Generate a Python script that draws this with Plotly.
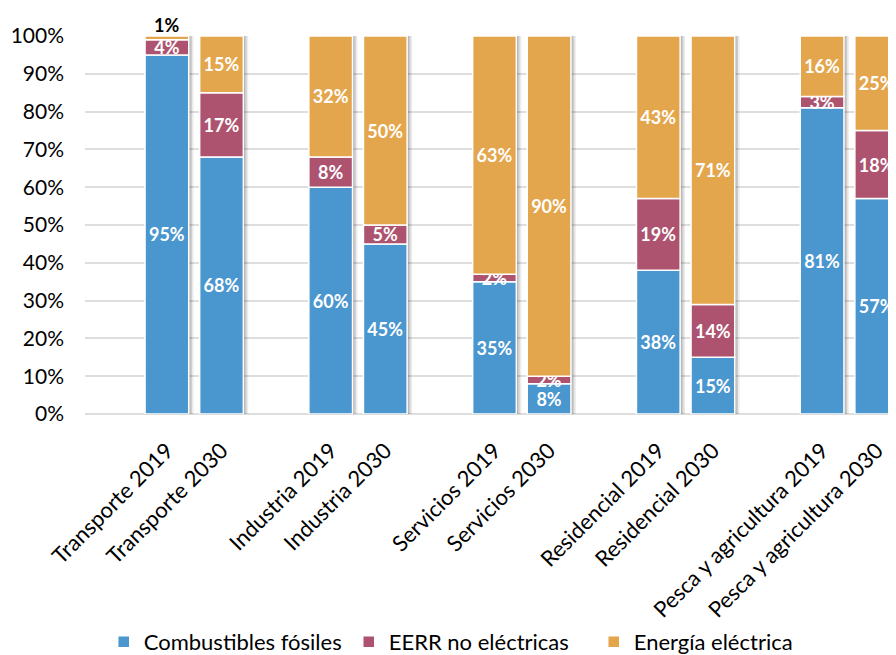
import numpy as np
import plotly.graph_objects as go

# ---- data ----
labels = ["Transporte 2019", "Transporte 2030",
          "Industria 2019", "Industria 2030",
          "Servicios 2019", "Servicios 2030",
          "Residencial 2019", "Residencial 2030",
          "Pesca y agricultura 2019", "Pesca y agricultura 2030"]
fosiles = [95, 68, 60, 45, 35, 8, 38, 15, 81, 57]
eerr = [4, 17, 8, 5, 2, 2, 19, 14, 3, 18]
electrica = [1, 15, 32, 50, 63, 90, 43, 71, 16, 25]
series_names = ["Combustibles fósiles", "EERR no eléctricas", "Energía eléctrica"]
colors = ["#4A96CE", "#AD536F", "#E4A64C"]
ytick_vals = list(range(0, 101, 10))
ytick_text = [f"{v}%" for v in ytick_vals]

# category slots: one empty slot before each pair
pos = np.array([g * 3 + k + 1 for g in range(5) for k in range(2)], dtype=float)

F = np.array(fosiles, float)
E = np.array(eerr, float)
L = np.array(electrica, float)
bases = [np.zeros_like(F), F, F + E]
vals = [F, E, L]
totals = F + E + L

FONT = "Lato"
fig = go.Figure()

# soft shadow behind bars
for off, a in [(-0.31, 0.08), (-0.34, 0.12), (-0.37, 0.14)]:
    fig.add_trace(go.Bar(x=pos, y=totals, base=np.zeros_like(F), width=0.8, offset=off,
                         marker=dict(color=f"rgba(0,0,0,{a})", line=dict(width=0)),
                         showlegend=False, hoverinfo="skip", cliponaxis=False))

for name, col, b, v in zip(series_names, colors, bases, vals):
    txt = [f"{int(round(x))}%" if x >= 2 else "" for x in v]
    fig.add_trace(go.Bar(
        x=pos, y=v, base=b, name=name, width=0.8, offset=-0.4,
        marker=dict(color=col, line=dict(color="white", width=1.5)),
        text=txt, textposition="inside", insidetextanchor="middle",
        constraintext="none", cliponaxis=False,
        textfont=dict(family=FONT, size=18, color="white", weight="bold"),
    ))

# small values shown above the bar
for x, b, v in zip(pos, bases[2], L):
    if v < 2:
        fig.add_annotation(x=x, y=b + v, text=f"<b>{int(round(v))}%</b>", showarrow=False,
                           yanchor="bottom", yshift=-2,
                           font=dict(family=FONT, size=18, color="black"))

fig.update_layout(
    width=896, height=655,
    barmode="overlay",
    plot_bgcolor="white", paper_bgcolor="white",
    margin=dict(l=77, r=0, t=28, b=249, autoexpand=False),
    font=dict(family=FONT, color="black"),
    legend=dict(orientation="h", xref="container", x=0.517, xanchor="center",
                yref="container", y=-0.012, yanchor="bottom",
                font=dict(family=FONT, size=22), traceorder="normal",
                entrywidth=200, entrywidthmode="pixels"),
    xaxis=dict(range=[-0.5, 14.5], tickvals=pos, ticktext=labels, tickangle=-45,
               showgrid=False, zeroline=False, showline=False, automargin=False,
               ticks="outside", ticklen=14, tickcolor="rgba(0,0,0,0)",
               tickfont=dict(family=FONT, size=22, color="black")),
    yaxis=dict(range=[0, 100], tickvals=ytick_vals, ticktext=ytick_text,
               showgrid=True, gridcolor="#dedede", gridwidth=1.5,
               zeroline=True, zerolinecolor="#dedede", zerolinewidth=1.5,
               ticklabelstandoff=20, automargin=False,
               tickfont=dict(family=FONT, size=21, color="black")),
)

fig.write_html("out.html")
